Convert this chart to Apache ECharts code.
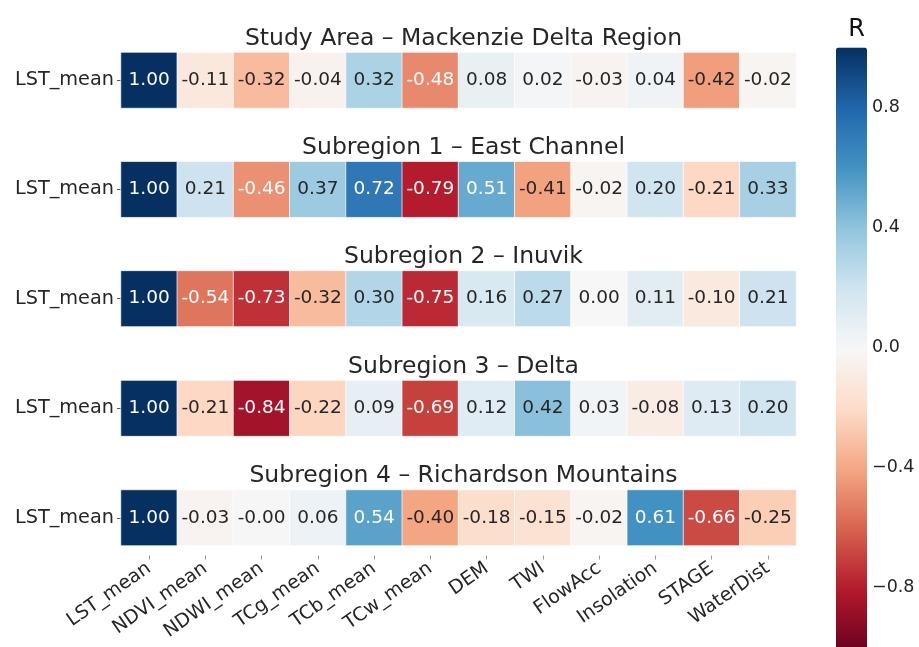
<!DOCTYPE html>
<html>
<head>
<meta charset="utf-8">
<script src="https://cdn.jsdelivr.net/npm/echarts@6/dist/echarts.min.js"></script>
<style>
  html, body { margin: 0; padding: 0; background: #fff; }
  #chart { width: 919px; height: 647px; }
</style>
</head>
<body>
<div id="chart"></div>
<script>
// variables on the x axis
const columns = ["LST_mean", "NDVI_mean", "NDWI_mean", "TCg_mean", "TCb_mean", "TCw_mean",
  "DEM", "TWI", "FlowAcc", "Insolation", "STAGE", "WaterDist"];
const rowLabel = ["LST_mean"];
const panelTitles = [
  "Study Area \u2013 Mackenzie Delta Region",
  "Subregion 1 \u2013 East Channel",
  "Subregion 2 \u2013 Inuvik",
  "Subregion 3 \u2013 Delta",
  "Subregion 4 \u2013 Richardson Mountains",
];
const studyArea = [1.00, -0.11, -0.32, -0.04, 0.32, -0.48, 0.08, 0.02, -0.03, 0.04, -0.42, -0.02];
const subregion1 = [1.00, 0.21, -0.46, 0.37, 0.72, -0.79, 0.51, -0.41, -0.02, 0.20, -0.21, 0.33];
const subregion2 = [1.00, -0.54, -0.73, -0.32, 0.30, -0.75, 0.16, 0.27, 0.00, 0.11, -0.10, 0.21];
const subregion3 = [1.00, -0.21, -0.84, -0.22, 0.09, -0.69, 0.12, 0.42, 0.03, -0.08, 0.13, 0.20];
const subregion4 = [1.00, -0.03, -0.004, 0.06, 0.54, -0.40, -0.18, -0.15, -0.02, 0.61, -0.66, -0.25];
const panels = [studyArea, subregion1, subregion2, subregion3, subregion4];
// colorbar range and ticks
const colorMin = -1;
const colorMax = 1;
const colorbarTicks = [-0.8, -0.4, 0, 0.4, 0.8];

// matplotlib RdBu (low -> high)
const rdbu = ["#67001f", "#b2182b", "#d6604d", "#f4a582", "#fddbc7", "#f7f7f7",
  "#d1e5f0", "#92c5de", "#4393c3", "#2166ac", "#053061"];

const textDark = "#262626";
const font = "DejaVu Sans";

const gridLeft = 121;
const gridWidth = 675;
const gridTops = [52.5, 161.7, 270.9, 380.6, 490];
const gridHeight = 55.5;

let grids = [], xAxes = [], yAxes = [], series = [], titles = [];

panels.forEach((vals, i) => {
  const last = i === panels.length - 1;
  grids.push({ left: gridLeft, width: gridWidth, top: gridTops[i], height: gridHeight });
  titles.push({
    text: panelTitles[i],
    left: gridLeft + gridWidth / 2,
    textAlign: "center",
    top: gridTops[i] - 31,
    textStyle: { fontFamily: font, fontSize: 23.5, fontWeight: "normal", color: textDark },
  });
  xAxes.push({
    type: "category",
    gridIndex: i,
    data: columns,
    offset: last ? 10 : 0,
    axisLine: { show: false },
    axisTick: { show: last, alignWithLabel: true, length: 4, lineStyle: { color: "#999" } },
    axisLabel: {
      show: last,
      interval: 0,
      rotate: 35,
      margin: 11,
      fontFamily: font,
      fontSize: 19,
      color: textDark,
    },
    splitLine: { show: false },
  });
  yAxes.push({
    type: "category",
    gridIndex: i,
    data: rowLabel,
    axisLine: { show: false },
    axisTick: { show: true, length: 4, alignWithLabel: true, lineStyle: { color: "#555" } },
    axisLabel: { margin: 7, fontFamily: font, fontSize: 19.3, color: textDark },
  });
  series.push({
    type: "heatmap",
    xAxisIndex: i,
    yAxisIndex: i,
    data: vals.map((v, j) => ({
      value: [j, 0, v],
      label: { color: (v >= 0.5 || v <= -0.45) ? "#fff" : textDark },
    })),
    label: {
      show: true,
      fontFamily: font,
      fontSize: 18.5,
      formatter: (p) => p.value[2].toFixed(2),
    },
    itemStyle: { borderColor: "rgba(255,255,255,0.7)", borderWidth: 1 },
    emphasis: { disabled: true },
  });
});

// colorbar axis, same box as the visualMap bar
const cbTop = 47.5;
const cbHeight = 605;
const cbLeft = 836;
const cbWidth = 31;
grids.push({ left: cbLeft, width: cbWidth, top: cbTop, height: cbHeight });
xAxes.push({ type: "value", gridIndex: 5, show: false, min: 0, max: 1 });
yAxes.push({
  type: "value",
  gridIndex: 5,
  position: "right",
  min: colorMin,
  max: colorMax,
  axisLine: { show: false },
  splitLine: { show: false },
  axisTick: { show: true, length: 4, customValues: colorbarTicks, lineStyle: { color: "#555" } },
  axisLabel: {
    margin: 5,
    customValues: colorbarTicks,
    fontFamily: font,
    fontSize: 17.5,
    color: textDark,
    formatter: (v) => (v < -1e-9 ? "\u2212" : "") + Math.abs(v).toFixed(1),
  },
});

titles.push({
  text: "R",
  left: cbLeft + cbWidth / 2,
  textAlign: "center",
  top: 13,
  textStyle: { fontFamily: font, fontSize: 24, fontWeight: "normal", color: "#111" },
});

const chart = echarts.init(document.getElementById("chart"), null, { renderer: "canvas" });
chart.setOption({
  backgroundColor: "#fff",
  animation: false,
  title: titles,
  grid: grids,
  xAxis: xAxes,
  yAxis: yAxes,
  visualMap: {
    type: "continuous",
    min: colorMin,
    max: colorMax,
    dimension: 2,
    seriesIndex: [0, 1, 2, 3, 4],
    calculable: false,
    hoverLink: false,
    orient: "vertical",
    left: cbLeft,
    top: cbTop,
    itemWidth: cbWidth,
    itemHeight: cbHeight,
    padding: 0,
    text: null,
    indicatorSize: 0,
    handleSize: 0,
    inRange: { color: rdbu },
  },
  series: series,
});
</script>
</body>
</html>
